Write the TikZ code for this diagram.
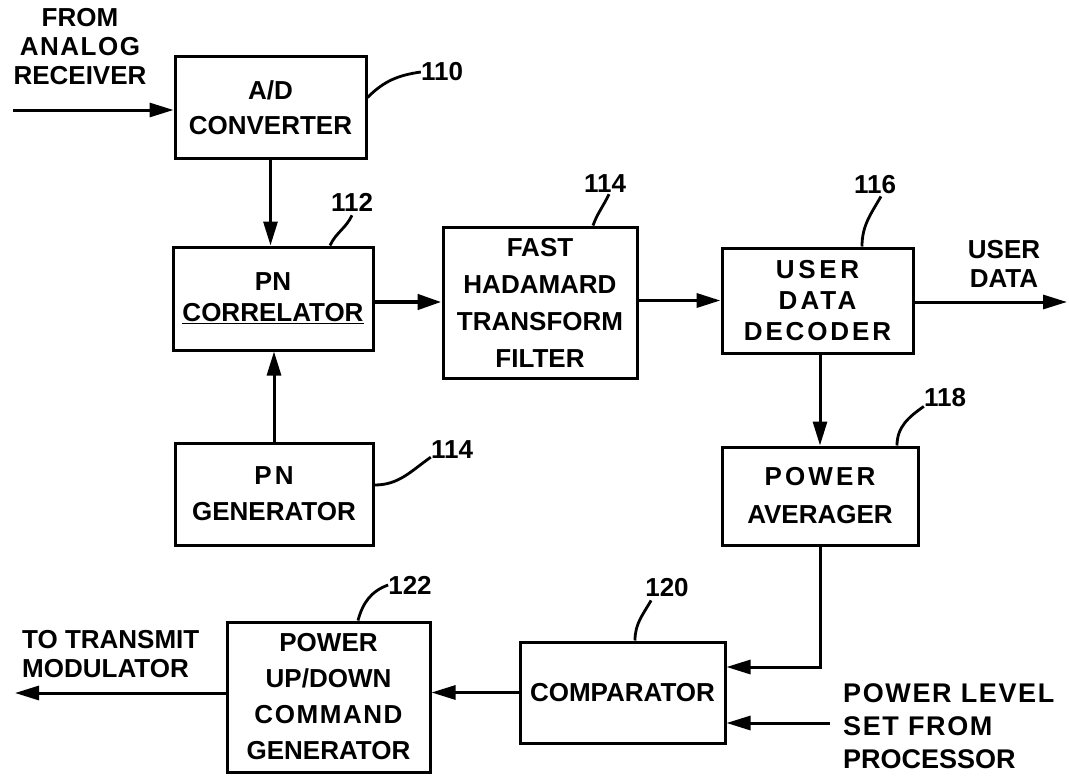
\documentclass[tikz,border=0pt]{standalone}
\usepackage{fontspec}
\setmainfont{Liberation Sans}
\usetikzlibrary{arrows.meta}
\tikzset{
  blk/.style={draw, line width=3pt, inner sep=0pt, align=center, font=\bfseries\fontsize{26}{35}\selectfont},
  txt/.style={inner sep=0pt, font=\bfseries\fontsize{26}{29}\selectfont},
  refnum/.style={inner sep=0pt, font=\bfseries\fontsize{26}{26}\selectfont},
  conn/.style={line width=3pt, -{Triangle[length=24pt,width=14pt]}},
  thickconn/.style={line width=4.5pt, -{Triangle[length=24pt,width=15pt]}},
  lead/.style={line width=2.8pt}
}
\newcommand{\spc}[2]{{\addfontfeature{LetterSpace=#1}#2}}
\begin{document}
\begin{tikzpicture}[x=1pt,y=-1pt]
\useasboundingbox (0,0) rectangle (1069,776);
% blocks
\node[blk, minimum width=191pt, minimum height=101pt] (ad) at (270.5,107.5) {A/D\\CONVERTER};
\node[blk, minimum width=200pt, minimum height=103pt, font=\bfseries\fontsize{26}{31}\selectfont] (pnc) at (273,298.5) {PN\\\underline{CORRELATOR}};
\node[blk, minimum width=198pt, minimum height=102pt, font=\bfseries\fontsize{26}{36}\selectfont] (png) at (274,494) {\spc{12}{PN}\\GENERATOR};
\node[blk, minimum width=194pt, minimum height=151pt, font=\bfseries\fontsize{26}{37}\selectfont] (fht) at (540,302.5) {FAST\\HADAMARD\\TRANSFORM\\FILTER};
\node[blk, minimum width=191pt, minimum height=105pt, font=\bfseries\fontsize{26}{31}\selectfont] (udd) at (817.5,300.5) {\spc{14}{USER}\\\spc{12}{DATA}\\\spc{11}{DECODER}};
\node[blk, minimum width=196pt, minimum height=98pt, font=\bfseries\fontsize{26}{38}\selectfont] (pa) at (820,496) {\spc{12}{POWER}\\AVERAGER};
\node[blk, minimum width=205pt, minimum height=101pt] (cmp) at (622.5,692.5) {COMPARATOR};
\node[blk, minimum width=203pt, minimum height=150pt, font=\bfseries\fontsize{26}{36}\selectfont] (pud) at (328.5,697) {POWER\\UP/DOWN\\\spc{6}{COMMAND}\\GENERATOR};
% free texts
\node[txt, align=center] (tin) at (80,47) {FROM\\\spc{6}{ANALOG}\\RECEIVER};
\node[txt, align=center] (tud) at (1004,264) {USER\\DATA};
\node[txt, align=left, anchor=west] (ttx) at (22,654) {TO TRANSMIT\\MODULATOR};
\node[txt, align=left, anchor=west, font=\bfseries\fontsize{27}{33}\selectfont] (tpl) at (843,726) {\spc{6}{POWER LEVEL}\\\spc{6}{SET FROM}\\PROCESSOR};
% reference numerals
\node[refnum] (l110) at (442,72) {110};
\node[refnum] (l112) at (352,202) {112};
\node[refnum] (l114a) at (605,184) {114};
\node[refnum] (l116) at (875,185) {116};
\node[refnum] (l118) at (945,398) {118};
\node[refnum] (l114b) at (452,450) {114};
\node[refnum] (l120) at (667,588) {120};
\node[refnum] (l122) at (410,585) {122};
% free connector ends
\coordinate (inA) at (13,110);
\coordinate (outU) at (1067,302);
\coordinate (outT) at (15,693);
\coordinate (pls) at (830,723);
% connectors
\draw[conn] (inA) -- (inA -| ad.west);
\draw[conn] (ad.south) -- (ad.south |- pnc.north);
\draw[conn] (png.north) -- (png.north |- pnc.south);
\draw[thickconn] ([yshift=-3.5pt]pnc.east) -- ([yshift=-3.5pt]pnc.east -| fht.west);
\draw[conn, line width=3.6pt] (fht.east |- udd.west) -- (udd.west);
\draw[conn] (udd.east |- outU) -- (outU);
\draw[conn] (pa.north |- udd.south) -- (pa.north);
\draw[conn] (pa.south) |- ([yshift=25.5pt]cmp.east);
\draw[conn] (pls) -- (pls -| cmp.east);
\draw[conn] (cmp.west) -- (cmp.west -| pud.east);
\draw[conn] (outT -| pud.west) -- (outT);
% leaders
\draw[lead] ([yshift=10pt]ad.east) to[out=45,in=188] (l110.west);
\draw[lead] ([xshift=57pt]pnc.north) to[out=65,in=245] ([yshift=-4pt]l112.south);
\draw[lead] ([xshift=53pt]fht.north) to[out=70,in=245] ([xshift=4pt,yshift=-1pt]l114a.south);
\draw[lead] ([xshift=44.5pt]udd.north) to[out=90,in=240] ([xshift=6pt,yshift=-2pt]l116.south);
\draw[lead] ([xshift=77pt]pa.north) to[out=90,in=215] ([yshift=1pt]l118.south west);
\draw[lead] ([yshift=9pt]png.east) to[out=0,in=215] ([yshift=2pt]l114b.south west);
\draw[lead] ([xshift=12.5pt]cmp.north) to[out=90,in=240] ([xshift=6pt,yshift=-3pt]l120.south west);
\draw[lead] ([xshift=29.5pt]pud.north) to[out=75,in=200] (l122.west);
\end{tikzpicture}
\end{document}
